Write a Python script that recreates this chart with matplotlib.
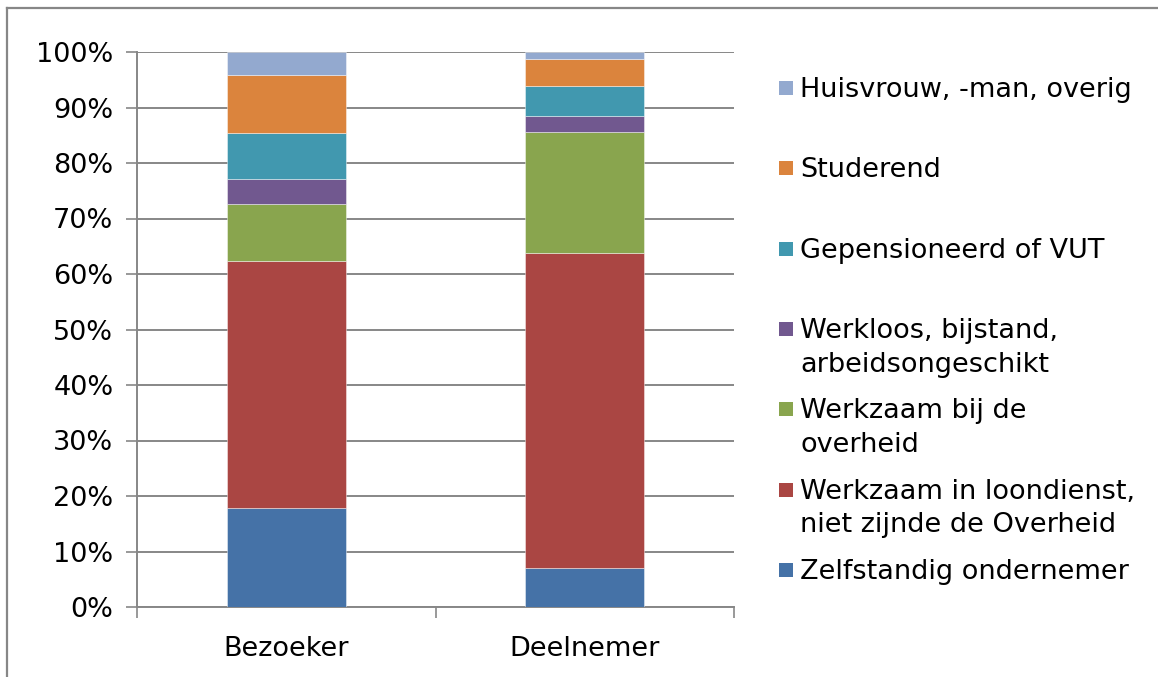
#!/usr/bin/env python3
"""Stacked 100% bar chart: occupation of visitors vs participants."""
import matplotlib
matplotlib.use("Agg")
import matplotlib.pyplot as plt
from matplotlib.patches import Rectangle
from matplotlib.lines import Line2D

# Data (percentages)
groups = ["Bezoeker", "Deelnemer"]
series = [
    "Zelfstandig ondernemer",
    "Werkzaam in loondienst,\nniet zijnde de Overheid",
    "Werkzaam bij de\noverheid",
    "Werkloos, bijstand,\narbeidsongeschikt",
    "Gepensioneerd of VUT",
    "Studerend",
    "Huisvrouw, -man, overig",
]
bezoeker = [17.9, 44.4, 10.4, 4.5, 8.15, 10.45, 4.2]
deelnemer = [7.1, 56.75, 21.65, 3.0, 5.45, 4.85, 1.2]
colors = ["#4572A7", "#AA4643", "#89A54E", "#71588F", "#4198AF", "#DB843D", "#93A9CF"]
yticks = [0, 10, 20, 30, 40, 50, 60, 70, 80, 90, 100]

W, H = 1158, 677
GRID = "#878787"
FS = 19.5

fig = plt.figure(figsize=(W / 100, H / 100), dpi=100)
ax = fig.add_axes([137 / W, 1 - 607 / H, (734 - 137) / W, (607 - 52) / H])

x = [0, 1]
bottoms = [0.0, 0.0]
for i, name in enumerate(series):
    vals = [bezoeker[i], deelnemer[i]]
    ax.bar(x, vals, width=0.4, bottom=bottoms, color=colors[i],
           edgecolor=(1, 1, 1, 0.5), linewidth=0.6, zorder=3)
    bottoms = [b + v for b, v in zip(bottoms, vals)]

ax.set_xlim(-0.5, 1.5)
ax.set_ylim(0, 100)
ax.set_yticks(yticks)
ax.set_yticklabels([f"{t}%" for t in yticks], fontsize=FS)
ax.yaxis.grid(True, color=GRID, linewidth=1.4, zorder=0)
ax.set_axisbelow(True)

ax.set_xticks(x)
ax.set_xticklabels(groups, fontsize=FS)
ax.set_xticks([-0.5, 0.5, 1.5], minor=True)
ax.tick_params(axis="x", which="major", length=0, pad=21)
ax.tick_params(axis="x", which="minor", length=8, width=1.2, color=GRID)
ax.tick_params(axis="y", length=8, width=1.2, color=GRID, pad=9)

for side in ["top", "right"]:
    ax.spines[side].set_visible(False)
for side in ["left", "bottom"]:
    ax.spines[side].set_color(GRID)
    ax.spines[side].set_linewidth(1.4)

# legend drawn by hand so that two-line entries align like Excel's
y0, step, line_h = 88, 80.3, 34
for j, name in enumerate(reversed(series)):
    col = colors[len(series) - 1 - j]
    yc = y0 + step * j
    fig.patches.append(Rectangle((779 / W, 1 - (yc + 7) / H), 14 / W, 14 / H,
                                 transform=fig.transFigure, facecolor=col,
                                 edgecolor="none"))
    for k, line in enumerate(name.split("\n")):
        fig.text(800 / W, 1 - (yc + 9 + k * line_h) / H, line, fontsize=FS,
                 va="baseline", ha="left", color="black")

# outer chart frame (only left and top edges visible)
fig.add_artist(Line2D([7 / W, 7 / W], [0, 1 - 8 / H], color=GRID, linewidth=1.6))
fig.add_artist(Line2D([7 / W, 1], [1 - 8 / H, 1 - 8 / H], color=GRID, linewidth=1.6))

fig.savefig("out.png", dpi=100)
